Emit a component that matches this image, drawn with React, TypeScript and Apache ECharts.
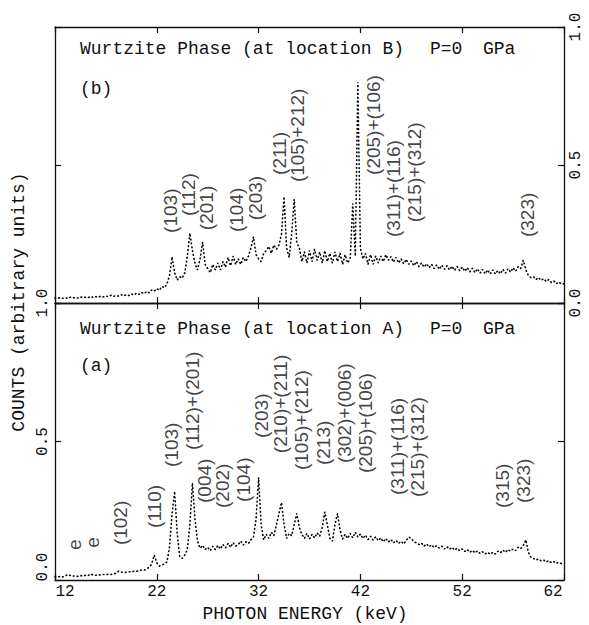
import React, { useEffect, useRef } from "react";
import * as echarts from "echarts";

// ---- data (counts, arbitrary units) ----
// energy grid: 12 .. 62 keV, step 0.25 keV
const E_START = 12;
const E_STEP = 0.25;

// Panel (b): location B
const countsB = [
  0.018, 0.016, 0.020, 0.017, // 12
  0.019, 0.017, 0.021, 0.018, // 13
  0.020, 0.018, 0.022, 0.019, // 14
  0.021, 0.019, 0.024, 0.020, // 15
  0.023, 0.021, 0.025, 0.022, // 16
  0.025, 0.023, 0.028, 0.024, // 17
  0.027, 0.025, 0.030, 0.026, // 18
  0.030, 0.027, 0.033, 0.029, // 19
  0.035, 0.031, 0.038, 0.034, // 20
  0.042, 0.037, 0.047, 0.043, // 21
  0.052, 0.046, 0.060, 0.055, // 22
  0.070, 0.100, 0.167, 0.110, // 23
  0.083, 0.095, 0.090, 0.110, // 24
  0.170, 0.253, 0.190, 0.145, // 25
  0.120, 0.160, 0.220, 0.140, // 26
  0.125, 0.110, 0.140, 0.120, // 27
  0.145, 0.120, 0.150, 0.130, // 28
  0.165, 0.135, 0.170, 0.140, // 29
  0.160, 0.140, 0.165, 0.150, // 30
  0.170, 0.200, 0.240, 0.175, // 31
  0.160, 0.150, 0.180, 0.190, // 32
  0.205, 0.180, 0.210, 0.195, // 33
  0.210, 0.250, 0.385, 0.200, // 34
  0.165, 0.250, 0.375, 0.220, // 35
  0.200, 0.150, 0.185, 0.145, // 36
  0.190, 0.150, 0.195, 0.155, // 37
  0.185, 0.145, 0.190, 0.150, // 38
  0.180, 0.145, 0.185, 0.150, // 39
  0.180, 0.140, 0.175, 0.145, // 40
  0.160, 0.360, 0.170, 0.800, // 41
  0.200, 0.160, 0.180, 0.140, // 42
  0.175, 0.140, 0.170, 0.145, // 43
  0.170, 0.150, 0.175, 0.155, // 44
  0.168, 0.148, 0.165, 0.145, // 45
  0.160, 0.142, 0.158, 0.140, // 46
  0.152, 0.135, 0.150, 0.132, // 47
  0.145, 0.130, 0.142, 0.128, // 48
  0.140, 0.125, 0.138, 0.122, // 49
  0.137, 0.122, 0.135, 0.120, // 50
  0.133, 0.118, 0.132, 0.117, // 51
  0.130, 0.115, 0.128, 0.113, // 52
  0.126, 0.110, 0.124, 0.108, // 53
  0.122, 0.106, 0.120, 0.105, // 54
  0.120, 0.105, 0.118, 0.106, // 55
  0.122, 0.108, 0.124, 0.112, // 56
  0.128, 0.115, 0.132, 0.125, // 57
  0.155, 0.120, 0.100, 0.092, // 58
  0.095, 0.085, 0.092, 0.082, // 59
  0.088, 0.078, 0.085, 0.075, // 60
  0.080, 0.070, 0.076, 0.068, // 61
  0.070,                      // 62
];

// Panel (a): location A
const countsA = [
  0.012, 0.010, 0.013, 0.011, // 12
  0.014, 0.020, 0.016, 0.014, // 13
  0.015, 0.013, 0.016, 0.014, // 14
  0.017, 0.016, 0.022, 0.018, // 15
  0.017, 0.019, 0.018, 0.020, // 16
  0.019, 0.021, 0.020, 0.022, // 17
  0.024, 0.032, 0.029, 0.027, // 18
  0.028, 0.030, 0.029, 0.032, // 19
  0.031, 0.034, 0.036, 0.035, // 20
  0.040, 0.046, 0.058, 0.090, // 21
  0.062, 0.050, 0.054, 0.058, // 22
  0.065, 0.120, 0.240, 0.320, // 23
  0.170, 0.085, 0.078, 0.090, // 24
  0.110, 0.200, 0.350, 0.220, // 25
  0.140, 0.115, 0.125, 0.110, // 26
  0.118, 0.106, 0.122, 0.110, // 27
  0.125, 0.112, 0.128, 0.116, // 28
  0.132, 0.118, 0.135, 0.122, // 29
  0.128, 0.140, 0.126, 0.138, // 30
  0.132, 0.145, 0.155, 0.220, // 31
  0.370, 0.200, 0.145, 0.165, // 32
  0.150, 0.172, 0.160, 0.200, // 33
  0.240, 0.280, 0.200, 0.150, // 34
  0.168, 0.160, 0.200, 0.240, // 35
  0.190, 0.165, 0.150, 0.168, // 36
  0.148, 0.165, 0.152, 0.170, // 37
  0.158, 0.190, 0.245, 0.200, // 38
  0.150, 0.140, 0.200, 0.240, // 39
  0.180, 0.148, 0.165, 0.150, // 40
  0.168, 0.152, 0.172, 0.155, // 41
  0.166, 0.150, 0.162, 0.146, // 42
  0.158, 0.144, 0.156, 0.142, // 43
  0.152, 0.138, 0.150, 0.137, // 44
  0.146, 0.134, 0.143, 0.132, // 45
  0.140, 0.130, 0.142, 0.155, // 46
  0.150, 0.138, 0.134, 0.128, // 47
  0.133, 0.122, 0.130, 0.120, // 48
  0.127, 0.117, 0.124, 0.115, // 49
  0.122, 0.112, 0.120, 0.111, // 50
  0.118, 0.108, 0.115, 0.106, // 51
  0.112, 0.103, 0.110, 0.100, // 52
  0.107, 0.098, 0.105, 0.096, // 53
  0.102, 0.094, 0.100, 0.093, // 54
  0.100, 0.094, 0.104, 0.098, // 55
  0.108, 0.100, 0.110, 0.104, // 56
  0.112, 0.106, 0.118, 0.113, // 57
  0.125, 0.145, 0.100, 0.082, // 58
  0.078, 0.072, 0.076, 0.069, // 59
  0.072, 0.065, 0.070, 0.063, // 60
  0.066, 0.060, 0.064, 0.059, // 61
  0.058,                      // 62
];

// Peak labels: [text, energy (keV), counts at label foot]
const peaksB: [string, number, number][] = [
  ["(103)", 23.3, 0.254],
  ["(112)", 25.07, 0.315],
  ["(201)", 26.93, 0.264],
  ["(104)", 29.78, 0.257],
  ["(203)", 31.74, 0.3],
  ["(211)", 34.1, 0.464],
  ["(105)+212)", 35.87, 0.438],
  ["(205)+(106)", 43.24, 0.464],
  ["(311)+(116)", 45.3, 0.239],
  ["(215)+(312)", 47.27, 0.293],
  ["(323)", 58.37, 0.239],
];

const peaksA: [string, number, number][] = [
  ["e", 13.96, 0.108],
  ["e", 15.73, 0.116],
  ["(102)", 18.39, 0.126],
  ["(110)", 21.82, 0.188],
  ["(103)", 23.49, 0.408],
  ["(112)+(201)", 25.46, 0.469],
  ["(004)", 26.64, 0.278],
  ["(202)", 28.5, 0.26],
  ["(104)", 30.47, 0.282],
  ["(203)", 32.24, 0.513],
  ["(210)+(211)", 34.2, 0.458],
  ["(105)+(212)", 36.17, 0.397],
  ["(213)", 38.33, 0.415],
  ["(302)+(006)", 40.39, 0.422],
  ["(205)+(106)", 42.55, 0.386],
  ["(311)+(116)", 45.6, 0.307],
  ["(215)+(312)", 47.56, 0.3],
  ["(315)", 56.0, 0.26],
  ["(323)", 58.07, 0.278],
];

const xTicks = [12, 22, 32, 42, 52, 62];
const yTicks = ["0.0", "0.5", "1.0"];

const titleB = "Wurtzite Phase (at location B)";
const titleA = "Wurtzite Phase (at location A)";
const pressure = "P=0";
const unit = "GPa";
const yTitle = "COUNTS (arbitrary units)";
const xTitle = "PHOTON ENERGY (keV)";

const MONO = "'Liberation Mono', 'DejaVu Sans Mono', monospace";
const SANS = "'Liberation Sans', Arial, sans-serif";
const INK = "#111";

function toPoints(vals: number[]) {
  return vals.map((v, i) => [E_START + i * E_STEP, v]);
}

function baseX(gridIndex: number, position: "top" | "bottom", labels: boolean) {
  return {
    type: "value",
    gridIndex,
    position,
    min: xTicks[0],
    max: xTicks[xTicks.length - 1],
    interval: 10,
    axisLine: { show: true, onZero: false, lineStyle: { color: INK, width: 1.3 } },
    axisTick: { show: true, inside: true, length: 6, lineStyle: { color: INK, width: 1.2 } },
    splitLine: { show: false },
    axisLabel: labels
      ? {
          show: true,
          margin: 4,
          color: INK,
          fontFamily: MONO,
          fontSize: 16,
          lineHeight: 16,
          formatter: (v: number) => {
            if (v === xTicks[0]) return `{l|${v}}`;
            if (v === xTicks[xTicks.length - 1]) return `{r|${v}}`;
            return String(v);
          },
          rich: {
            l: { fontFamily: MONO, fontSize: 16, lineHeight: 16, color: INK, padding: [0, 0, 0, 20] },
            r: { fontFamily: MONO, fontSize: 16, lineHeight: 16, color: INK, padding: [0, 22, 0, 0] },
          },
        }
      : { show: false },
  };
}

function baseY(gridIndex: number, position: "left" | "right", labels: boolean, shiftZero: boolean) {
  return {
    type: "value",
    gridIndex,
    position,
    min: 0,
    max: 1,
    interval: 0.5,
    axisLine: { show: true, onZero: false, lineStyle: { color: INK, width: 1.3 } },
    axisTick: { show: true, inside: true, length: 6, lineStyle: { color: INK, width: 1.2 } },
    splitLine: { show: false },
    axisLabel: labels
      ? {
          show: true,
          rotate: 90,
          margin: 4,
          color: INK,
          fontFamily: MONO,
          fontSize: 16,
          formatter: (v: number) => {
            const s = yTicks[Math.round(v * 2)];
            if (shiftZero && v === 0) return `{z|${s}}`;
            return s;
          },
          rich: {
            z: { fontFamily: MONO, fontSize: 16, color: INK, padding: [0, 0, 0, 26] },
          },
        }
      : { show: false },
  };
}

function labelSeries(xi: number, yi: number, peaks: [string, number, number][]) {
  return {
    type: "scatter",
    xAxisIndex: xi,
    yAxisIndex: yi,
    silent: true,
    symbolSize: 1,
    itemStyle: { color: "rgba(0,0,0,0)" },
    data: peaks.map((p) => ({ value: [p[1], p[2]], name: p[0] })),
    label: {
      show: true,
      position: "inside",
      formatter: (p: any) => p.name,
      rotate: 90,
      align: "left",
      verticalAlign: "middle",
      fontFamily: SANS,
      fontSize: 19,
      color: INK,
    },
  };
}

function lineSeries(xi: number, yi: number, vals: number[]) {
  return {
    type: "line",
    xAxisIndex: xi,
    yAxisIndex: yi,
    silent: true,
    showSymbol: false,
    symbol: "none",
    data: toPoints(vals),
    lineStyle: { color: "#000", width: 1.6, type: [0.7, 3.2], cap: "round" },
  };
}

function titleTexts(y: number, main: string, tagText: string, tagY: number) {
  return [
    { type: "text", left: 80, top: y - 10, style: { text: main, font: `18px ${MONO}`, fill: INK } },
    { type: "text", left: 430, top: y - 10, style: { text: pressure, font: `18px ${MONO}`, fill: INK } },
    { type: "text", left: 483, top: y - 10, style: { text: unit, font: `18px ${MONO}`, fill: INK } },
    { type: "text", left: 80, top: tagY - 10, style: { text: tagText, font: `18px ${MONO}`, fill: INK } },
  ];
}

export default function App() {
  const ref = useRef<HTMLDivElement>(null);
  useEffect(() => {
    if (!ref.current) return;
    const chart = echarts.init(ref.current, undefined, { renderer: "svg" });
    chart.setOption({
      animation: false,
      backgroundColor: "#fff",
      grid: [
        { left: 55, right: 25, top: 27, height: 276 },
        { left: 55, right: 25, top: 303, height: 277 },
      ],
      xAxis: [
        baseX(0, "bottom", false),
        baseX(0, "top", false),
        baseX(1, "bottom", true),
        baseX(1, "top", false),
      ],
      yAxis: [
        baseY(0, "left", false, false),
        baseY(0, "right", true, false),
        baseY(1, "left", true, true),
        baseY(1, "right", false, false),
      ],
      series: [
        lineSeries(0, 0, countsB),
        lineSeries(2, 2, countsA),
        labelSeries(0, 0, peaksB),
        labelSeries(2, 2, peaksA),
      ],
      graphic: [
        ...titleTexts(50, titleB, "(b)", 90),
        ...titleTexts(330, titleA, "(a)", 367),
        {
          type: "text",
          x: 19,
          y: 302,
          rotation: Math.PI / 2,
          style: {
            text: yTitle,
            font: `18px ${MONO}`,
            fill: INK,
            textAlign: "center",
            textVerticalAlign: "middle",
          },
        },
        {
          type: "text",
          x: 305,
          y: 614,
          style: {
            text: xTitle,
            font: `18px ${MONO}`,
            fill: INK,
            textAlign: "center",
            textVerticalAlign: "middle",
          },
        },
      ],
    });
    return () => chart.dispose();
  }, []);
  return (
    <div
      ref={ref}
      style={{ position: "fixed", left: 0, top: 0, width: 589, height: 625, background: "#fff" }}
    />
  );
}
